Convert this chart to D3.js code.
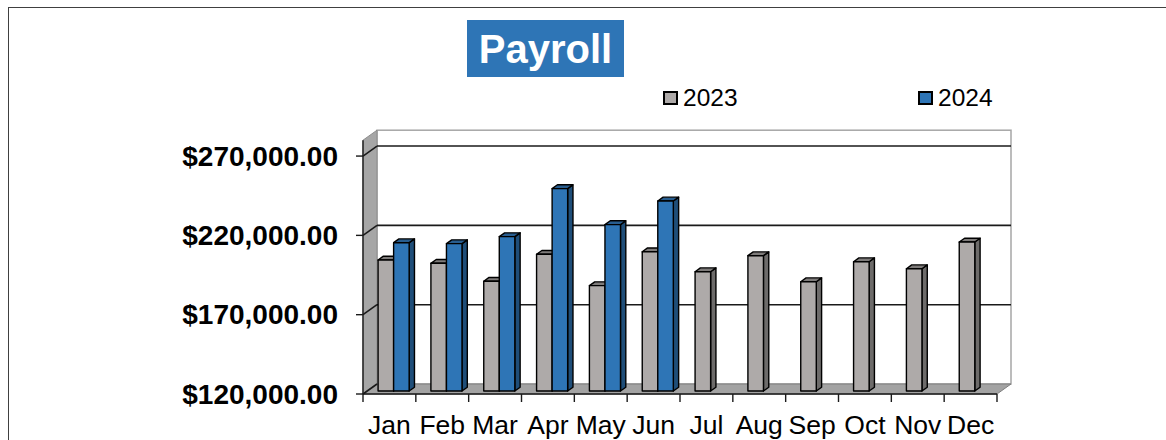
<!DOCTYPE html>
<html>
<head>
<meta charset="utf-8">
<script src="https://cdn.jsdelivr.net/npm/d3@7"></script>
<style>
  body { margin: 0; background: #fff; }
  svg { display: block; font-family: "Liberation Sans", Arial, sans-serif; }
</style>
</head>
<body>
<div id="container"></div>
<script>
/* DATA */
const months = ["Jan", "Feb", "Mar", "Apr", "May", "Jun", "Jul", "Aug", "Sep", "Oct", "Nov", "Dec"];
const seriesNames = ["2023", "2024"];
const values2023 = [202600, 200500, 189200, 206200, 186400, 207800, 195200, 205300, 188900, 201500, 197100, 213900];
const values2024 = [213500, 212900, 217300, 247600, 224900, 239800, null, null, null, null, null, null];
const yTicks = [120000, 170000, 220000, 270000];

/* CONSTANTS */
const width = 1166, height = 440;
const plot = { left: 363, right: 997, bottom: 394 };
const depth = { dx: 14, dy: -10 };          // back wall offset
const barFront = 0.3, barBack = 0.68;       // bar position inside the depth

const colors = {
  "2023": { front: "#aeaaa9", top: "#7e7b7a", side: "#6d6b6a" },
  "2024": { front: "#2e75b6", top: "#285d8f", side: "#1f4e79" }
};

const svg = d3.select("#container").append("svg")
  .attr("width", width).attr("height", height);

// outer border
svg.append("rect")
  .attr("x", 8.5).attr("y", 7.5)
  .attr("width", width).attr("height", height)
  .attr("fill", "none").attr("stroke", "#404040");

/* SCALES */
const x = d3.scaleBand().domain(months).range([plot.left, plot.right]).padding(0);
const xs = d3.scaleBand().domain(seriesNames).range([0, x.bandwidth()]).paddingInner(0).paddingOuter(0.7);
const y = d3.scaleLinear().domain([120000, 280000]).range([plot.bottom, plot.bottom - 253.8]);

const yTop = y(280000);

// back wall
svg.append("rect")
  .attr("x", plot.left + depth.dx).attr("y", yTop + depth.dy)
  .attr("width", plot.right - plot.left).attr("height", plot.bottom - yTop)
  .attr("fill", "#fff").attr("stroke", "#a6a6a6").attr("stroke-width", 1.5);

// left side wall
svg.append("polygon")
  .attr("points", [
    [plot.left, plot.bottom], [plot.left, yTop],
    [plot.left + depth.dx, yTop + depth.dy], [plot.left + depth.dx, plot.bottom + depth.dy]
  ].join(" "))
  .attr("fill", "#a6a6a6").attr("stroke", "#8c8c8c").attr("stroke-width", 1);

// floor
svg.append("polygon")
  .attr("points", [
    [plot.left, plot.bottom], [plot.right, plot.bottom],
    [plot.right + depth.dx, plot.bottom + depth.dy], [plot.left + depth.dx, plot.bottom + depth.dy]
  ].join(" "))
  .attr("fill", "#a3a3a3").attr("stroke", "#7f7f7f").attr("stroke-width", 1);

// gridlines on back wall and side wall
const grid = svg.append("g").attr("stroke", "#1a1a1a").attr("stroke-width", 1.6).attr("fill", "none");
grid.selectAll("line.back")
  .data(yTicks.filter(d => d > 120000))
  .join("line")
  .attr("class", "back")
  .attr("x1", plot.left + depth.dx).attr("x2", plot.right + depth.dx)
  .attr("y1", d => y(d) + depth.dy).attr("y2", d => y(d) + depth.dy);
grid.selectAll("line.side")
  .data(yTicks)
  .join("line")
  .attr("class", "side")
  .attr("x1", plot.left).attr("x2", plot.left + depth.dx)
  .attr("y1", d => y(d)).attr("y2", d => y(d) + depth.dy);

/* BARS */
const barData = [];
months.forEach((m, i) => {
  [values2023[i], values2024[i]].forEach((v, j) => {
    if (v != null) barData.push({ month: m, series: seriesNames[j], value: v });
  });
});

const ox = depth.dx * barFront, oy = depth.dy * barFront;
const bx = depth.dx * (barBack - barFront), by = depth.dy * (barBack - barFront);

const bars = svg.append("g")
  .selectAll("g")
  .data(barData)
  .join("g")
  .attr("stroke", "#000").attr("stroke-width", 1.4).attr("stroke-linejoin", "round");

bars.each(function(d) {
  const g = d3.select(this);
  const x0 = x(d.month) + xs(d.series) + ox;
  const x1 = x0 + xs.bandwidth();
  const yb = y(120000) + oy;
  const yt = y(d.value) + oy;
  const c = colors[d.series];
  // side
  g.append("polygon")
    .attr("points", [[x1, yb], [x1, yt], [x1 + bx, yt + by], [x1 + bx, yb + by]].join(" "))
    .attr("fill", c.side);
  // top
  g.append("polygon")
    .attr("points", [[x0, yt], [x1, yt], [x1 + bx, yt + by], [x0 + bx, yt + by]].join(" "))
    .attr("fill", c.top);
  // front
  g.append("rect")
    .attr("x", x0).attr("y", yt)
    .attr("width", xs.bandwidth()).attr("height", yb - yt)
    .attr("fill", c.front);
});

/* AXES */
const axisG = svg.append("g").attr("stroke", "#1a1a1a").attr("stroke-width", 1.4);
axisG.append("line")
  .attr("x1", plot.left).attr("x2", plot.left)
  .attr("y1", yTop).attr("y2", plot.bottom);
axisG.append("line")
  .attr("x1", plot.left).attr("x2", plot.right)
  .attr("y1", plot.bottom).attr("y2", plot.bottom);
axisG.selectAll("line.ytick")
  .data(yTicks)
  .join("line")
  .attr("class", "ytick")
  .attr("x1", plot.left - 7).attr("x2", plot.left)
  .attr("y1", d => y(d)).attr("y2", d => y(d));
axisG.selectAll("line.xtick")
  .data(months.map(m => x(m)).concat([plot.right]))
  .join("line")
  .attr("class", "xtick")
  .attr("x1", d => d).attr("x2", d => d)
  .attr("y1", plot.bottom).attr("y2", plot.bottom + 8);

const fmt = d3.format("$,.2f");
svg.append("g")
  .selectAll("text")
  .data(yTicks)
  .join("text")
  .attr("x", 338)
  .attr("y", d => y(d))
  .attr("dy", "0.35em")
  .attr("text-anchor", "end")
  .attr("font-size", "28px")
  .attr("font-weight", "bold")
  .attr("fill", "#000")
  .text(d => fmt(d));

svg.append("g")
  .selectAll("text")
  .data(months)
  .join("text")
  .attr("x", d => x(d) + x.bandwidth() / 2)
  .attr("y", 434)
  .attr("text-anchor", "middle")
  .attr("font-size", "26.5px")
  .attr("fill", "#000")
  .text(d => d);

/* TITLE */
svg.append("rect")
  .attr("x", 467).attr("y", 20)
  .attr("width", 157).attr("height", 57)
  .attr("fill", "#2e75b6");
svg.append("text")
  .attr("x", 545.5).attr("y", 63)
  .attr("text-anchor", "middle")
  .attr("font-size", "40px")
  .attr("font-weight", "bold")
  .attr("fill", "#fff")
  .text("Payroll");

/* LEGEND */
const legendX = { "2023": 664, "2024": 919 };
const legend = svg.append("g")
  .selectAll("g")
  .data(seriesNames)
  .join("g")
  .attr("transform", d => `translate(${legendX[d]}, 92)`);
legend.append("rect")
  .attr("width", 13).attr("height", 12)
  .attr("fill", d => colors[d].front)
  .attr("stroke", "#000").attr("stroke-width", 2);
legend.append("text")
  .attr("x", 19).attr("y", 14)
  .attr("font-size", "24.5px")
  .attr("fill", "#000")
  .text(d => d);
</script>
</body>
</html>
